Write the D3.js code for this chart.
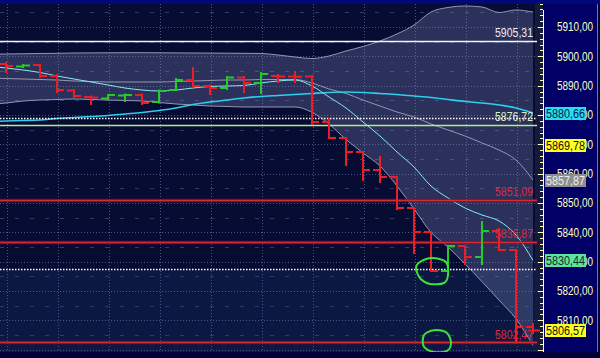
<!DOCTYPE html>
<html><head><meta charset="utf-8">
<script src="https://cdn.jsdelivr.net/npm/d3@7"></script>
<style>html,body{margin:0;padding:0;background:#00003a;overflow:hidden}svg{display:block}</style>
</head><body><svg id="c" width="600" height="358"></svg>
<script>
// ---------- DATA ----------
const barIndex = d3.range(0, 32);
const barOpen  = [5897.39,5896.53,5897.05,5893.30,5888.35,5886.14,5885.63,5886.65,5886.82,5884.43,5888.52,5891.93,5889.89,5889.20,5892.78,5890.91,5893.30,5893.13,5893.13,5877.61,5872.16,5867.39,5861.25,5858.86,5848.30,5840.11,5826.82,5835.34,5831.59,5840.45,5833.98,5807.73];
const barHigh  = [5897.73,5897.05,5897.05,5893.64,5888.52,5886.31,5886.82,5886.99,5886.99,5888.35,5892.27,5896.02,5890.06,5892.95,5892.95,5894.32,5893.64,5894.66,5893.30,5878.64,5872.16,5867.39,5865.68,5858.86,5848.30,5840.11,5835.34,5835.34,5843.52,5841.14,5833.98,5808.75];
const barLow   = [5894.66,5896.36,5892.95,5887.84,5886.14,5883.75,5885.45,5884.77,5883.75,5884.26,5888.52,5889.55,5887.16,5888.86,5887.84,5887.50,5891.25,5891.25,5876.93,5872.16,5862.95,5857.84,5857.16,5847.95,5832.95,5826.82,5826.82,5829.20,5829.20,5833.98,5802.47,5805.68];
const barClose = [5896.70,5896.88,5893.30,5888.52,5886.48,5885.97,5886.82,5886.82,5884.09,5888.18,5891.93,5889.89,5889.20,5892.78,5890.91,5893.98,5893.13,5893.03,5877.61,5872.16,5867.39,5861.25,5858.86,5848.30,5840.11,5826.82,5835.34,5831.59,5840.45,5833.98,5807.73,5806.57];

const bandIndex  = d3.range(-1, 32);
const upperBand  = [5900.73,5900.80,5900.86,5900.97,5901.03,5901.14,5901.17,5901.20,5901.24,5901.24,5901.20,5901.17,5901.14,5901.10,5901.07,5901.03,5900.97,5900.45,5899.77,5899.26,5900.11,5901.82,5903.35,5905.23,5907.62,5910.68,5915.11,5916.65,5917.16,5916.82,5914.94,5915.80,5915.11];
const middleBand = [5892.61,5892.44,5892.27,5892.10,5891.93,5891.59,5891.42,5891.25,5891.25,5891.25,5891.25,5891.42,5891.59,5891.76,5891.93,5891.93,5892.10,5892.10,5892.10,5890.91,5888.86,5887.33,5885.11,5883.07,5881.02,5879.32,5876.93,5874.89,5872.84,5870.46,5868.07,5864.66,5857.87];
const lowerBand  = [5883.58,5884.09,5884.77,5885.11,5885.28,5885.45,5885.28,5885.11,5884.94,5884.77,5884.26,5883.75,5883.41,5883.07,5882.90,5882.73,5882.73,5882.73,5882.73,5880.90,5876.90,5871.65,5867.05,5862.61,5855.80,5848.00,5840.00,5835.00,5829.20,5823.20,5816.90,5810.50,5801.40];
const fastMA     = [5896.70,5896.02,5895.34,5894.49,5893.30,5892.27,5891.25,5890.23,5889.20,5888.52,5888.18,5888.52,5889.20,5889.72,5889.89,5890.06,5890.91,5891.59,5891.93,5889.89,5886.14,5882.39,5877.61,5872.84,5867.39,5862.27,5855.80,5851.70,5848.30,5845.91,5843.87,5839.09,5830.44];
const slowMA     = [5877.78,5877.95,5878.12,5878.30,5878.81,5879.15,5879.49,5879.83,5880.34,5880.85,5881.53,5882.39,5883.58,5884.43,5885.11,5885.80,5886.31,5886.65,5886.99,5887.33,5887.67,5887.84,5887.67,5887.33,5886.99,5886.48,5885.97,5885.28,5884.60,5884.09,5883.41,5882.39,5880.66];

const levelValues = [5905.31, 5876.72, 5851.09, 5836.87, 5802.47];
const levelLabels = ["5905,31", "5876,72", "5851,09", "5836,87", "5802,47"];
const dottedLevels = [5879.0, 5827.5];

const yTickValues = [5910,5900,5890,5880,5870,5860,5850,5840,5830,5820,5810];
const yTickLabels = ["5910,00","5900,00","5890,00","5880,00","5870,00","5860,00","5850,00","5840,00","5830,00","5820,00","5810,00"];

const markerValues = [5880.66, 5869.78, 5857.87, 5830.44, 5806.57];
const markerLabels = ["5880,66", "5869,78", "5857,87", "5830,44", "5806,57"];

// hand-drawn annotation loops, in (bar index, price)
const loopA = [[24.35,5829.89],[25.06,5831.25],[25.88,5829.89],[26.0,5825.45],[25.76,5822.73],[24.94,5822.39],[24.35,5824.43],[24.12,5827.84]];
const loopB = [[24.71,5805.68],[25.29,5806.70],[25.94,5805.68],[26.18,5802.27],[25.94,5799.55],[25.18,5799.20],[24.59,5800.91],[24.53,5803.98]];

// ---------- STYLE ----------
const levelStroke = ["#f4f4f4", "#b4ea8c", "#d62a3a", "#d62a3a", "#d62a3a"];
const levelText   = ["#ececf4", "#d4f2cc", "#dc2a3c", "#dc2a3c", "#dc2a3c"];
const markerFill  = ["#22e2ea", "#ffff1a", "#8e8e8e", "#5ee2a2", "#ffff1a"];
const markerInk   = ["#10105a", "#101010", "#ececec", "#103020", "#101010"];
const FONT = "'Liberation Sans', Arial, sans-serif";

// ---------- SCALES ----------
const plot = {left: 0, right: 543, top: 4, bottom: 352};
const x = d3.scaleLinear().domain([0, 31]).range([6, 533]);
const y = d3.scaleLinear().domain([5810, 5910]).range([320.33, 27]);

const svg = d3.select("#c");
svg.append("rect").attr("width", 600).attr("height", 358).attr("fill", "#00003a");
svg.append("rect").attr("x", 0).attr("y", 0).attr("width", 600).attr("height", plot.top).attr("fill", "#00087a");

svg.append("defs").append("clipPath").attr("id", "pc")
  .append("rect").attr("x", plot.left).attr("y", plot.top)
  .attr("width", plot.right - plot.left).attr("height", plot.bottom - plot.top);

const g = svg.append("g").attr("clip-path", "url(#pc)");
g.append("rect").attr("x", plot.left).attr("y", plot.top)
  .attr("width", plot.right).attr("height", plot.bottom - plot.top).attr("fill", "#070c33");
g.append("rect").attr("x", plot.left).attr("y", y(dottedLevels[1]))
  .attr("width", plot.right).attr("height", plot.bottom - y(dottedLevels[1])).attr("fill", "#0b1841");
g.append("rect").attr("x", x(31) + 2).attr("y", plot.top)
  .attr("width", plot.right - x(31) - 2).attr("height", plot.bottom - plot.top).attr("fill", "#161b3c");

// grid
g.selectAll(".gmin").data(d3.range(5805, 5921, 10)).join("line")
  .attr("x1", 0).attr("x2", plot.right).attr("y1", d => Math.round(y(d)) + 0.5).attr("y2", d => Math.round(y(d)) + 0.5)
  .attr("stroke", "#2f3a6c").attr("stroke-dasharray", "4,11");
g.selectAll(".gmaj").data(d3.range(5800, 5921, 10)).join("line")
  .attr("x1", 0).attr("x2", plot.right).attr("y1", d => Math.round(y(d)) + 0.5).attr("y2", d => Math.round(y(d)) + 0.5)
  .attr("stroke", "#46548a").attr("stroke-dasharray", "1,2");
g.selectAll(".gv").data(d3.range(0, 32, 3)).join("line")
  .attr("x1", d => Math.round(x(d)) + 1.5).attr("x2", d => Math.round(x(d)) + 1.5)
  .attr("y1", plot.top).attr("y2", plot.bottom)
  .attr("stroke", "#46548a").attr("stroke-dasharray", "1,2");

// bollinger fill + lines
const bx = (d, i) => x(bandIndex[i]);
g.append("path").datum(upperBand)
  .attr("d", d3.area().x(bx).y0((d, i) => y(lowerBand[i])).y1(d => y(d)).curve(d3.curveMonotoneX))
  .attr("fill", "#8a94c4").attr("fill-opacity", 0.28);
[upperBand, middleBand, lowerBand].forEach(s => {
  g.append("path").datum(s).attr("d", d3.line().x(bx).y(d => y(d)).curve(d3.curveMonotoneX))
    .attr("fill", "none").attr("stroke", "#9496b4").attr("stroke-width", 1);
});
g.append("path").datum(slowMA).attr("d", d3.line().x(bx).y(d => y(d)).curve(d3.curveMonotoneX))
  .attr("fill", "none").attr("stroke", "#2ccff0").attr("stroke-width", 1.6);
g.append("path").datum(fastMA).attr("d", d3.line().x(bx).y(d => y(d)).curve(d3.curveMonotoneX))
  .attr("fill", "none").attr("stroke", "#86ecec").attr("stroke-width", 1);

// level lines
levelValues.forEach((v, i) => {
  const yy = Math.round(y(v)) + 0.5;
  if (i >= 2) g.append("line").attr("x1", 0).attr("x2", 537).attr("y1", yy).attr("y2", yy)
    .attr("stroke", "#6a1430").attr("stroke-width", 3.5).attr("stroke-opacity", 0.8);
  g.append("line").attr("x1", 0).attr("x2", 537).attr("y1", yy).attr("y2", yy)
    .attr("stroke", levelStroke[i]).attr("stroke-width", 1.5);
});
dottedLevels.forEach(v => {
  const yy = Math.round(y(v)) + 0.5;
  g.append("line").attr("x1", 0).attr("x2", 537).attr("y1", yy).attr("y2", yy)
    .attr("stroke", "#ffffff").attr("stroke-width", 1.5).attr("stroke-dasharray", "1.5,1.5");
});
levelValues.forEach((v, i) => {
  g.append("text").attr("x", 533).attr("y", y(v) - 3.5).attr("text-anchor", "end")
    .attr("font-family", FONT).attr("font-size", 12).attr("fill", levelText[i])
    .attr("textLength", 38).attr("lengthAdjust", "spacingAndGlyphs").text(levelLabels[i]);
});

// OHLC bars
const bars = g.append("g").attr("fill", "none").attr("stroke-width", 2);
barIndex.forEach(i => {
  const cx = Math.round(x(i));
  const col = barClose[i] >= barOpen[i] ? "#22cc22" : "#ee1c26";
  const p = `M${cx},${y(barHigh[i]) - 1}V${y(barLow[i]) + 1}` +
            `M${cx - 7},${y(barOpen[i])}H${cx}` +
            `M${cx},${y(barClose[i])}H${cx + 7}`;
  bars.append("path").attr("d", p).attr("stroke", col);
});

// annotation loops
const loopLine = d3.line().x(d => x(d[0])).y(d => y(d[1])).curve(d3.curveCardinalClosed.tension(0.1));
[loopA, loopB].forEach(l => g.append("path").attr("d", loopLine(l))
  .attr("fill", "none").attr("stroke", "#3ee03a").attr("stroke-width", 2));

// right panel
svg.append("rect").attr("x", 544).attr("y", plot.top).attr("width", 53).attr("height", plot.bottom - plot.top).attr("fill", "#000066");
svg.append("line").attr("x1", 597.5).attr("x2", 597.5).attr("y1", plot.top).attr("y2", plot.bottom).attr("stroke", "#7070d0");
svg.append("line").attr("x1", 543.5).attr("x2", 543.5).attr("y1", plot.top + 6).attr("y2", plot.bottom).attr("stroke", "#ffffc0");
svg.selectAll(".tk").data(d3.range(5800, 5919, 2)).join("line")
  .attr("x1", d => d % 10 === 0 ? 538 : 540).attr("x2", 543)
  .attr("y1", d => Math.round(y(d)) + 0.5).attr("y2", d => Math.round(y(d)) + 0.5)
  .attr("stroke", "#ffffc0");

const ax = svg.append("g").attr("transform", "translate(543,0)")
  .call(d3.axisRight(y).tickValues(yTickValues).tickFormat((d, i) => yTickLabels[i]).tickSize(0).tickPadding(14));
ax.select(".domain").remove();
ax.selectAll("text").attr("fill", "#ffffc8").attr("font-family", FONT).attr("font-size", 12)
  .attr("textLength", 36).attr("lengthAdjust", "spacingAndGlyphs");

// value markers
markerValues.forEach((v, i) => {
  svg.append("rect").attr("x", 545).attr("y", Math.round(y(v)) - 6).attr("width", 41).attr("height", 13).attr("fill", markerFill[i]);
  svg.append("text").attr("x", 565.5).attr("y", Math.round(y(v)) + 4.5).attr("text-anchor", "middle")
    .attr("font-family", FONT).attr("font-size", 12).attr("fill", markerInk[i])
    .attr("textLength", 39).attr("lengthAdjust", "spacingAndGlyphs").text(markerLabels[i]);
});
</script>
</body></html>
